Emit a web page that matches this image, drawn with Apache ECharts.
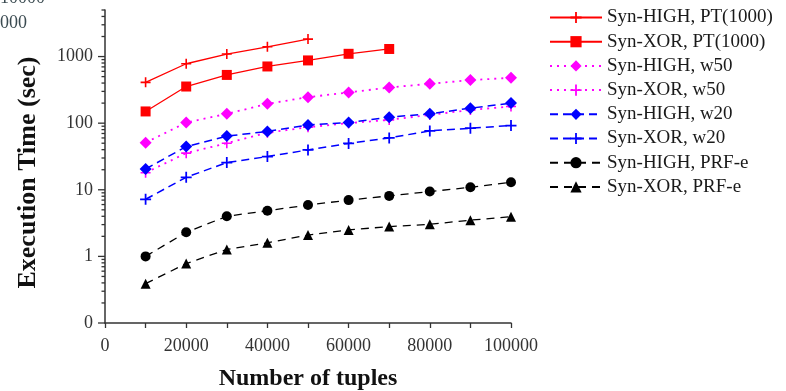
<!DOCTYPE html>
<html>
<head>
<meta charset="utf-8">
<script src="https://cdn.jsdelivr.net/npm/echarts@6/dist/echarts.min.js"></script>
<style>
  html, body { margin: 0; padding: 0; background: #fff; }
  #chart { width: 786px; height: 391px; }
</style>
</head>
<body>
<div id="chart"></div>
<script>
// Number of tuples on the x axis
const tuples = [10000, 20000, 30000, 40000, 50000, 60000, 70000, 80000, 90000, 100000];

// Execution time (sec) per method
const highPT   = [410, 780, 1090, 1400, 1830];
const xorPT    = [150, 355, 530, 710, 875, 1100, 1300];
const highW50  = [51, 102, 138, 195, 246, 289, 343, 390, 443, 480];
const xorW50   = [18, 35.5, 50, 72, 87, 100, 112, 133, 158, 178];
const highW20  = [20.5, 44.5, 64, 75, 94, 102, 123, 138, 168, 200];
const xorW20   = [7.2, 15.4, 25.6, 31.5, 39.7, 49.7, 60, 76.6, 84, 92];
const highPRF  = [1.0, 2.3, 4.0, 4.85, 5.9, 7.0, 8.1, 9.4, 10.9, 13];
const xorPRF   = [0.39, 0.78, 1.27, 1.6, 2.09, 2.5, 2.8, 3.03, 3.5, 3.94];

const seriesNames = [
  'Syn-HIGH, PT(1000)', 'Syn-XOR, PT(1000)',
  'Syn-HIGH, w50', 'Syn-XOR, w50',
  'Syn-HIGH, w20', 'Syn-XOR, w20',
  'Syn-HIGH, PRF-e', 'Syn-XOR, PRF-e'
];

// y axis range (log scale) and its labelled decades
const yMin = 0.1, yMax = 5000;
const yMajorTicks = [0.1, 1, 10, 100, 1000];
const yMinorTicks = [];
for (let e = -1; e <= 3; e++) {
  for (let k = 2; k <= 9; k++) {
    const v = k * Math.pow(10, e);
    if (v <= yMax + 1e-9) yMinorTicks.push(v);
  }
}

const serif = 'Liberation Serif';
const axisColor = '#333';

// thin "+" marker
const plusPath = 'path://M0,4.2L10,4.2L10,5.8L0,5.8Z M4.2,0L5.8,0L5.8,10L4.2,10Z';

function pairs(vals) {
  return vals.map((v, i) => [tuples[i], v]);
}

function lineSeries(name, vals, color, symbol, size, dash, width) {
  return {
    name: name,
    type: 'line',
    data: pairs(vals),
    symbol: symbol,
    symbolSize: size,
    showSymbol: true,
    itemStyle: { color: color },
    lineStyle: { color: color, width: width, type: dash },
    emphasis: { disabled: true },
    animation: false,
    z: 3
  };
}

// tick marks on the log axis: long at each decade, short at 2..9
const tickData = yMajorTicks.map(v => [v, 7]).concat(yMinorTicks.map(v => [v, 3.5]));

const chart = echarts.init(document.getElementById('chart'), null, { renderer: 'canvas' });

chart.setOption({
  backgroundColor: '#ffffff',
  animation: false,
  grid: { left: 105, right: 275, top: 10, bottom: 68, containLabel: false, outerBoundsMode: 'none' },
  legend: {
    data: seriesNames,
    orient: 'vertical',
    left: 544,
    top: 3,
    itemWidth: 52,
    itemHeight: 14,
    itemGap: 5.2,
    textStyle: { fontFamily: serif, fontSize: 19, color: '#1a1a1a', lineHeight: 18.5 },
    selectedMode: false
  },
  xAxis: {
    type: 'value',
    min: 0,
    max: 100000,
    interval: 10000,
    name: 'Number of tuples',
    nameLocation: 'middle',
    nameGap: 44,
    nameTextStyle: { fontFamily: serif, fontSize: 24, fontWeight: 'bold', color: '#111' },
    axisLine: { show: true, lineStyle: { color: axisColor, width: 1.5 } },
    axisTick: { show: true, inside: false, length: 5, lineStyle: { color: axisColor, width: 1.3 } },
    axisLabel: {
      fontFamily: serif, fontSize: 18, color: '#333', margin: 14,
      formatter: v => (v % 20000 === 0 ? String(v) : '')
    },
    splitLine: { show: false }
  },
  yAxis: {
    type: 'log',
    logBase: 10,
    min: yMin,
    max: yMax,
    name: 'Execution Time (sec)',
    nameLocation: 'middle',
    nameGap: 64,
    nameRotate: 90,
    nameTextStyle: { fontFamily: serif, fontSize: 26, fontWeight: 'bold', color: '#111', padding: [0, 12, 0, 0] },
    axisLine: { show: true, lineStyle: { color: axisColor, width: 1.5 } },
    axisTick: { show: false },
    minorTick: { show: false },
    axisLabel: {
      fontFamily: serif, fontSize: 18, color: '#333', margin: 12,
      formatter: v => {
        const l = Math.log10(v);
        if (Math.abs(l - Math.round(l)) > 1e-6) return '';
        if (Math.round(l) < 0) return '0';
        return String(Math.round(v));
      }
    },
    splitLine: { show: false }
  },
  graphic: [
    { type: 'text', left: 0, top: -11, style: { text: '10000', font: '18px "Liberation Serif"', fill: '#3a4a50' } },
    { type: 'text', left: -9, top: 14, style: { text: '1000', font: '18px "Liberation Serif"', fill: '#3a4a50' } }
  ],
  series: [
    lineSeries(seriesNames[0], highPT,  '#ff0000', plusPath, 10, 'solid', 1.3),
    lineSeries(seriesNames[1], xorPT,   '#ff0000', 'rect', 10, 'solid', 1.3),
    lineSeries(seriesNames[2], highW50, '#ff00ff', 'diamond', 12, [2, 5], 1.8),
    lineSeries(seriesNames[3], xorW50,  '#ff00ff', plusPath, 10, [2, 5], 1.8),
    lineSeries(seriesNames[4], highW20, '#0000ff', 'diamond', 12, [8, 5], 1.5),
    lineSeries(seriesNames[5], xorW20,  '#0000ff', plusPath, 11, [8, 5], 1.5),
    lineSeries(seriesNames[6], highPRF, '#000000', 'circle', 10, [8, 6], 1.3),
    lineSeries(seriesNames[7], xorPRF,  '#000000', 'triangle', 10, [8, 6], 1.3),
    {
      name: 'yTicks',
      type: 'custom',
      data: tickData,
      clip: false,
      silent: true,
      animation: false,
      z: 5,
      renderItem: function (params, api) {
        const p = api.coord([0, api.value(0)]);
        const len = api.value(1);
        return {
          type: 'line',
          shape: { x1: p[0] - len, y1: p[1], x2: p[0], y2: p[1] },
          style: { stroke: axisColor, lineWidth: 1.3 }
        };
      },
      encode: { x: -1, y: 0 }
    }
  ]
});
</script>
</body>
</html>
